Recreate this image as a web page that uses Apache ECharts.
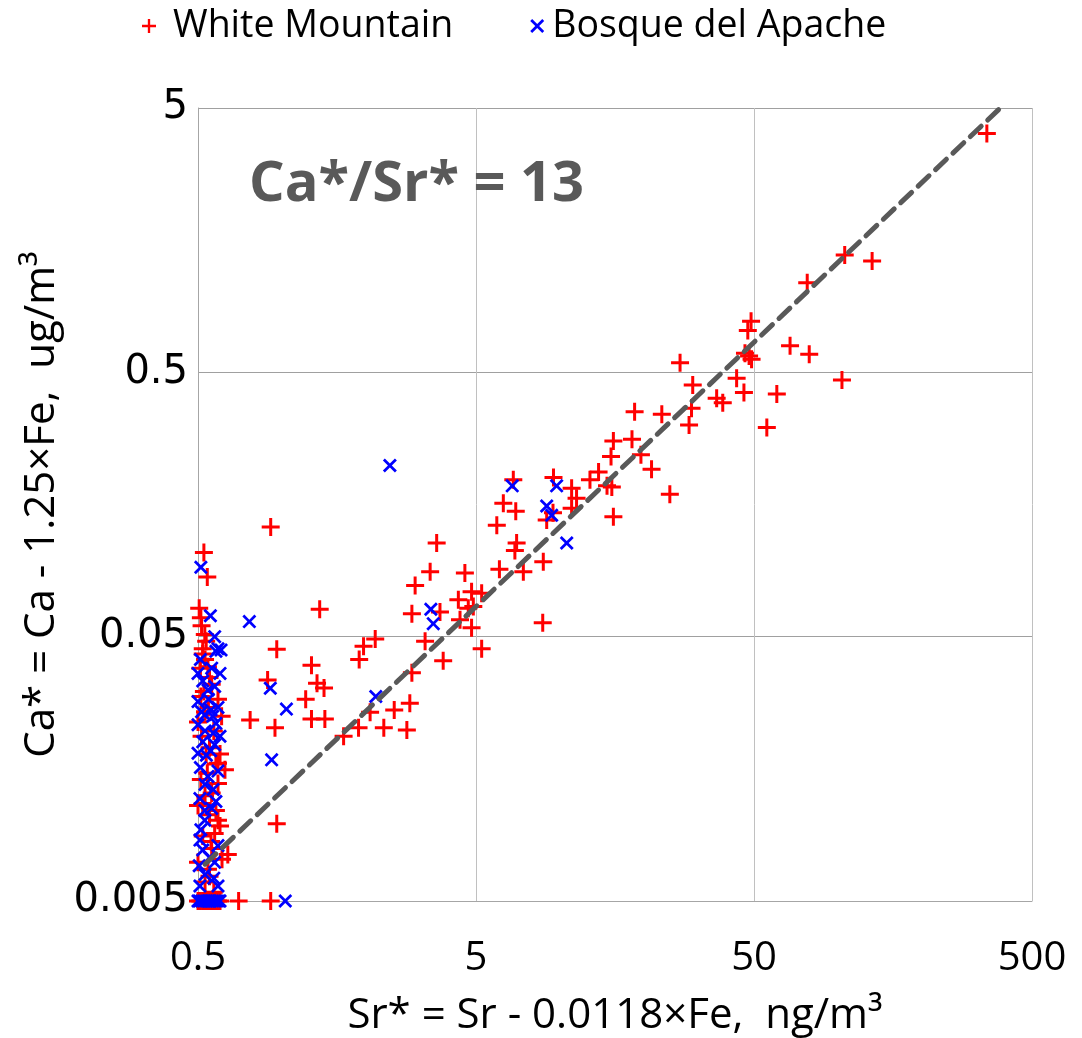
<!DOCTYPE html>
<html><head><meta charset="utf-8">
<script src="https://cdn.jsdelivr.net/npm/echarts@6/dist/echarts.min.js"></script>
<style>html,body{margin:0;padding:0;background:#fff;overflow:hidden}#c{width:1082px;height:1038px}</style>
</head><body><div id="c"></div>
<script>
// Sr* (ng/m3), Ca* (ug/m3)
const whiteMountain = [
  [344, 4.0],[106, 1.39],[133, 1.32],[77.7, 1.09],[48.8, 0.78],[47.5, 0.72],[46.4, 0.59],[49.0, 0.56],
  [48.0, 0.577],[67.4, 0.63],[79, 0.585],[27.1, 0.544],[43.3, 0.475],[30.1, 0.448],[46, 0.419],[60.4, 0.414],
  [103.6, 0.468],[36.7, 0.399],[38.6, 0.384],[29.8, 0.366],[18.6, 0.355],[23.3, 0.347],[29.2, 0.316],[55.6, 0.309],
  [15.6, 0.275],[18.2, 0.279],[15.3, 0.24],[19.6, 0.244],[21.4, 0.215],[13.8, 0.21],[12.85, 0.196],[14.8, 0.186],
  [15.4, 0.184],[24.9, 0.173],[11.04, 0.182],[11.5, 0.167],[11.04, 0.153],[9.5, 0.2],[6.81, 0.196],[6.27, 0.16],
  [6.95, 0.149],[8.98, 0.138],[9.46, 0.147],[15.6, 0.142],[5.94, 0.132],[7.0, 0.113],[6.9, 0.106],[8.73, 0.096],
  [6.07, 0.09],[7.4, 0.088],[5.24, 0.073],[4.82, 0.074],[4.89, 0.065],[8.69, 0.0565],[4.82, 0.054],[5.24, 0.045],
  [0.913, 0.13],[3.61, 0.113],[3.42, 0.088],[3.02, 0.078],[4.56, 0.087],[1.37, 0.0635],[2.94, 0.061],[3.71, 0.062],
  [4.32, 0.069],[4.69, 0.064],[4.38, 0.058],[3.28, 0.048],[2.17, 0.049],[1.97, 0.046],[1.90, 0.041],[3.81, 0.0405],
  [0.96, 0.0448],[1.28, 0.039],[2.94, 0.0365],[0.89, 0.0343],[1.34, 0.0333],[1.42, 0.032],[1.22, 0.029],[2.89, 0.028],
  [2.54, 0.0264],[2.08, 0.0259],[0.77, 0.0242],[0.946, 0.0226],[1.28, 0.0244],[1.43, 0.0244],[1.89, 0.0226],[2.33, 0.0226],
  [2.82, 0.0222],[1.67, 0.021],[0.96, 0.0098],[0.70, 0.005],[0.913, 0.005],
  // low-Sr column
  [0.525, 0.104],[0.54, 0.084],[0.512, 0.059],[0.529, 0.051],[0.52, 0.045],[0.53, 0.041],[0.543, 0.0385],[0.55, 0.035],
  [0.512, 0.0297],[0.59, 0.029],[0.608, 0.025],[0.5, 0.0238],[0.59, 0.0166],[0.625, 0.0157],[0.512, 0.0144],[0.59, 0.0139],
  [0.52, 0.0117],[0.58, 0.011],[0.5, 0.0115],[0.59, 0.0101],[0.574, 0.009],[0.557, 0.0084],[0.64, 0.0075],[0.5, 0.007],
  [0.543, 0.0066],[0.55, 0.0062],
  [0.505, 0.064],[0.515, 0.055],[0.535, 0.048],[0.52, 0.043],[0.51, 0.038],[0.56, 0.033],[0.525, 0.031],[0.545, 0.027],
  [0.53, 0.026],[0.57, 0.022],[0.515, 0.021],[0.55, 0.019],[0.535, 0.018],[0.6, 0.018],[0.58, 0.0165],[0.54, 0.0152],
  [0.56, 0.0128],[0.53, 0.0125],[0.55, 0.0106],[0.6, 0.0096],[0.52, 0.0088],[0.56, 0.0079],[0.61, 0.0072],[0.53, 0.0059],
  [0.57, 0.0054],
  [0.5, 0.005],[0.51, 0.005],[0.52, 0.005],[0.53, 0.005],[0.54, 0.005],[0.55, 0.005],[0.56, 0.005],[0.57, 0.005],
  [0.58, 0.005],[0.59, 0.005],[0.6, 0.005]
];
const bosqueDelApache = [
  [2.45, 0.222],[6.75, 0.186],[9.75, 0.186],[8.98, 0.156],[9.36, 0.144],[10.6, 0.113],[0.765, 0.057],[3.44, 0.0635],
  [3.51, 0.056],[0.91, 0.0319],[1.04, 0.0266],[2.18, 0.0297],[0.92, 0.0171],[1.03, 0.005],
  // low-Sr column
  [0.512, 0.0915],[0.554, 0.06],[0.574, 0.05],[0.59, 0.045],[0.58, 0.044],[0.605, 0.0445],[0.5, 0.0363],[0.6, 0.0363],
  [0.543, 0.0314],[0.574, 0.0324],[0.5, 0.0284],[0.557, 0.0264],[0.529, 0.0253],[0.58, 0.0235],[0.5, 0.0232],[0.567, 0.0216],
  [0.5, 0.0181],[0.574, 0.0195],[0.536, 0.0178],[0.543, 0.0148],[0.567, 0.0132],[0.508, 0.0122],[0.58, 0.0119],[0.529, 0.011],
  [0.529, 0.0101],[0.512, 0.0093],[0.508, 0.0085],[0.59, 0.0081],[0.574, 0.007],[0.508, 0.0057],[0.59, 0.0057],
  [0.52, 0.034],[0.56, 0.038],[0.51, 0.041],[0.545, 0.029],[0.59, 0.027],[0.515, 0.026],[0.565, 0.025],[0.53, 0.022],
  [0.6, 0.021],[0.52, 0.02],[0.555, 0.0185],[0.51, 0.016],[0.59, 0.0155],[0.53, 0.0138],[0.56, 0.0112],[0.52, 0.0078],
  [0.55, 0.0073],[0.53, 0.0063],[0.57, 0.0061],[0.505, 0.0068],
  [0.5, 0.005],[0.505, 0.005],[0.515, 0.005],[0.525, 0.005],[0.535, 0.005],[0.545, 0.005],[0.555, 0.005],[0.565, 0.005],
  [0.575, 0.005],[0.585, 0.005],[0.595, 0.005],[0.6, 0.005]
];
const xTicks = [0.5, 5, 50, 500];
const yTicks = [0.005, 0.05, 0.5, 5];
const caSrRatio = 0.013;           // Ca*/Sr* = 13 (ug vs ng)
const fitStartSr = 0.53;
const fitLine = [[fitStartSr, fitStartSr * caSrRatio], [5 / caSrRatio, 5]];

const sans = "'Open Sans', sans-serif";
const plusPath = 'path://M7.5,0H10.5V7.5H18V10.5H10.5V18H7.5V10.5H0V7.5H7.5Z';
const xPath = 'path://M0,2.5L2.5,0L9,6.5L15.5,0L18,2.5L11.5,9L18,15.5L15.5,18L9,11.5L2.5,18L0,15.5L6.5,9Z';
const fmt = v => String(+(+v).toPrecision(3));
const legendText = {fontFamily: sans, fontSize: 37.5, color: '#000'};

const chart = echarts.init(document.getElementById('c'), null, {renderer: 'canvas'});
chart.setOption({
  animation: false,
  backgroundColor: '#fff',
  grid: {left: 198, right: 50, top: 108, bottom: 137, containLabel: false, outerBoundsMode: 'none'},
  legend: {
    top: 2, left: 137, itemGap: 77, itemWidth: 14, itemHeight: 14,
    data: [
      {name: 'White Mountain', textStyle: Object.assign({padding: [0, 0, 0, 12]}, legendText)},
      {name: 'Bosque del Apache', textStyle: Object.assign({padding: [0, 0, 0, 3]}, legendText)}
    ],
    textStyle: legendText
  },
  xAxis: {
    type: 'log', logBase: 10, min: 0.5, max: 500,
    name: 'Sr* = Sr - 0.0118×Fe,  ng/m³', nameLocation: 'middle', nameGap: 94,
    nameTextStyle: {fontFamily: sans, fontSize: 42, color: '#000'},
    axisLine: {show: true, lineStyle: {color: '#a6a6a6'}},
    axisTick: {show: false, customValues: xTicks},
    axisLabel: {customValues: xTicks, formatter: fmt, fontFamily: sans, fontSize: 40, color: '#000', margin: 38},
    splitLine: {show: true, lineStyle: {color: '#c0c0c0', width: 1}}
  },
  yAxis: {
    type: 'log', logBase: 10, min: 0.005, max: 5,
    name: 'Ca* = Ca - 1.25×Fe,  ug/m³', nameLocation: 'middle', nameGap: 134,
    nameTextStyle: {fontFamily: sans, fontSize: 42, color: '#000'},
    axisLine: {show: true, lineStyle: {color: '#a6a6a6'}},
    axisTick: {show: false, customValues: yTicks},
    axisLabel: {customValues: yTicks, formatter: fmt, fontFamily: 'DejaVu Sans', fontSize: 40, color: '#000', margin: 10},
    splitLine: {show: true, lineStyle: {color: '#a0a0a0', width: 1}}
  },
  graphic: [{
    type: 'text', left: 249, top: 157, z: 10,
    style: {text: 'Ca*/Sr* = 13', font: "bold 56px " + sans, fill: '#595959'}
  }],
  series: [
    {name: 'White Mountain', type: 'scatter', data: whiteMountain, symbol: plusPath, symbolSize: 18,
     itemStyle: {color: '#ff0000', opacity: 1}},
    {name: 'Bosque del Apache', type: 'scatter', data: bosqueDelApache, symbol: xPath, symbolSize: 14,
     itemStyle: {color: '#0000ff', opacity: 1}},
    {name: 'fit', type: 'line', data: fitLine, symbol: 'none', z: 5, silent: true,
     lineStyle: {color: '#595959', width: 5, type: [15, 9], cap: 'round'}}
  ]
});
</script></body></html>
